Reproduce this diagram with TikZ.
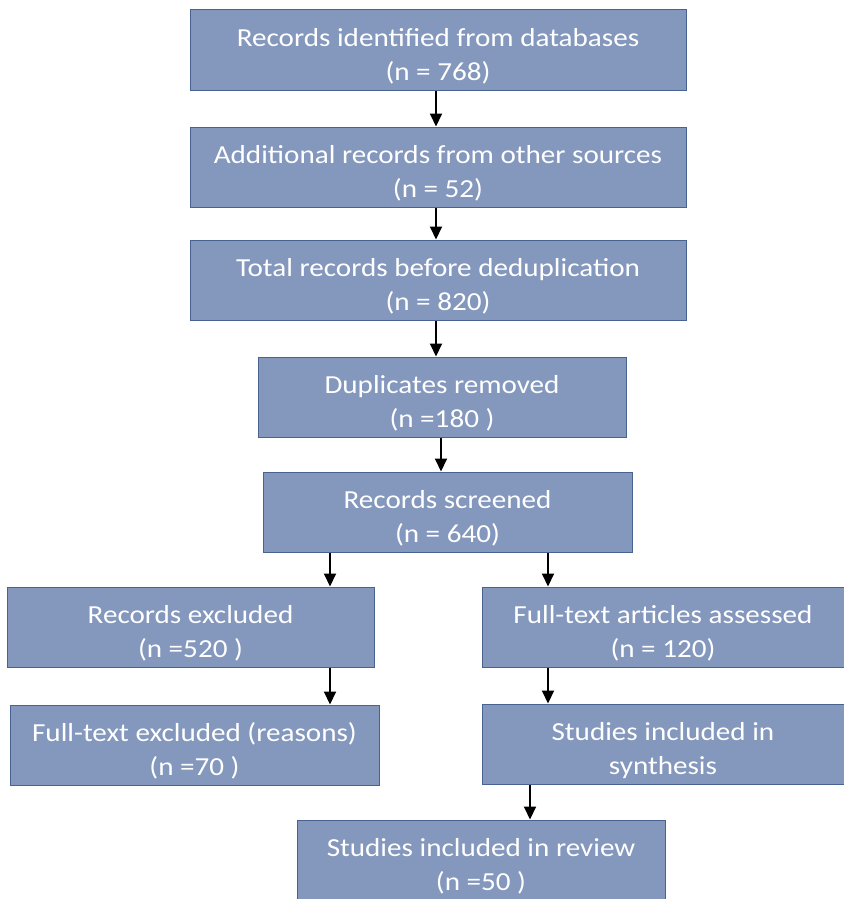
\documentclass[tikz,border=0pt]{standalone}
\usepackage{fontspec}
\setmainfont{Carlito}[FakeStretch=1.12]
\usetikzlibrary{arrows.meta}
\definecolor{boxfill}{RGB}{132,151,189}
\definecolor{boxline}{RGB}{72,98,146}
\newcommand{\topstrut}{\rule{0pt}{31pt}}
\tikzset{
  flowbox/.style={rectangle, draw=boxline, line width=1pt, fill=boxfill, text=white,
    align=center, minimum height=80pt, inner sep=0pt,
    font=\fontsize{26}{34.5}\selectfont},
  arr/.style={line width=2pt, -{Triangle[length=13pt,width=12pt]}}
}
\begin{document}
\begin{tikzpicture}[x=1pt,y=-1pt]
\useasboundingbox (0,0) rectangle (843,899);
\fill[white] (0,0) rectangle (843,899);
\node[flowbox, minimum width=496pt] (b1) at (438,50) {\topstrut Records identified from databases\\(n = 768)};
\node[flowbox, minimum width=496pt] (b2) at (438,167) {\topstrut Additional records from other sources\\(n = 52)};
\node[flowbox, minimum width=496pt] (b3) at (438,280) {\topstrut Total records before deduplication\\(n = 820)};
\node[flowbox, minimum width=368pt] (b4) at (442,397) {\topstrut Duplicates removed\\(n =180 )};
\node[flowbox, minimum width=369pt] (b5) at (447.5,512) {\topstrut Records screened\\(n = 640)};
\node[flowbox, minimum width=367pt] (b6) at (190.5,627) {\topstrut Records excluded\\(n =520 )};
\node[flowbox, minimum width=362pt] (b7) at (663,627) {\topstrut Full-text articles assessed\\(n = 120)};
\node[flowbox, minimum width=369pt] (b8) at (194.5,745) {\topstrut Full-text excluded (reasons)\\(n =70 )};
\node[flowbox, minimum width=362pt] (b9) at (663,744) {\topstrut Studies included in\\synthesis};
\node[flowbox, minimum width=368pt] (b10) at (481,860) {\topstrut Studies included in review\\(n =50 )};
\coordinate (x1) at (436,0);
\coordinate (x2) at (441,0);
\coordinate (xl) at (330,0);
\coordinate (xr) at (548,0);
\coordinate (xb) at (530,0);
\draw[arr] (b1.south -| x1) -- (b2.north -| x1);
\draw[arr] (b2.south -| x1) -- (b3.north -| x1);
\draw[arr] (b3.south -| x1) -- (b4.north -| x1);
\draw[arr] (b4.south -| x2) -- (b5.north -| x2);
\draw[arr] (b5.south -| xl) -- (b6.north -| xl);
\draw[arr] (b5.south -| xr) -- (b7.north -| xr);
\draw[arr] (b6.south -| xl) -- (b8.north -| xl);
\draw[arr] (b7.south -| xr) -- (b9.north -| xr);
\draw[arr] (b9.south -| xb) -- (b10.north -| xb);
\end{tikzpicture}
\end{document}
